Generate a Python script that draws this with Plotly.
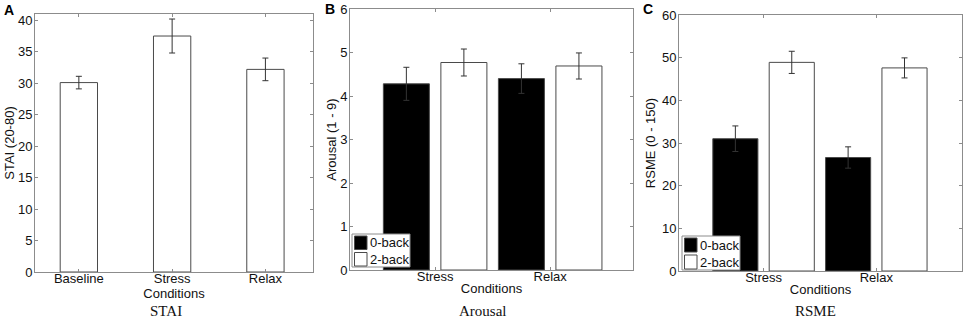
import plotly.graph_objects as go

# ---- data ----
stai_categories = ["Baseline", "Stress", "Relax"]
stai_values = [30.1, 37.5, 32.2]
stai_errors = [1.0, 2.7, 1.8]

conditions = ["Stress", "Relax"]
series_names = ["0-back", "2-back"]
arousal_0back = [4.28, 4.40]
arousal_0back_err = [0.38, 0.34]
arousal_2back = [4.77, 4.69]
arousal_2back_err = [0.31, 0.30]

rsme_0back = [31.0, 26.6]
rsme_0back_err = [3.0, 2.5]
rsme_2back = [48.9, 47.6]
rsme_2back_err = [2.6, 2.35]

W, H = 964, 325
AXC = "#8c8c8c"
EDGE = "#4a4a4a"
ERRC = "#333333"
FONT = "Liberation Sans, Arial, sans-serif"
TXT = "#111111"


def px_x(a, b):
    return [a / W, b / W]


def px_y(top, bottom):
    return [(H - bottom) / H, (H - top) / H]


def py(y):
    return (H - y) / H


fig = go.Figure()

err_style = dict(type="data", color=ERRC, thickness=1, width=3, visible=True)

# Panel A
xa = list(range(1, len(stai_categories) + 1))
fig.add_trace(go.Bar(
    x=xa, y=stai_values, width=0.4,
    marker=dict(color="white", line=dict(color=EDGE, width=1)),
    error_y=dict(array=stai_errors, **err_style),
    xaxis="x", yaxis="y", showlegend=False,
))

xb = list(range(1, len(conditions) + 1))
# Panel B
fig.add_trace(go.Bar(
    x=xb, y=arousal_0back, width=0.4, offset=-0.45, name=series_names[0],
    marker=dict(color="black", line=dict(color=EDGE, width=1)),
    error_y=dict(array=arousal_0back_err, **err_style),
    xaxis="x2", yaxis="y2", showlegend=False,
))
fig.add_trace(go.Bar(
    x=xb, y=arousal_2back, width=0.4, offset=0.05, name=series_names[1],
    marker=dict(color="white", line=dict(color=EDGE, width=1)),
    error_y=dict(array=arousal_2back_err, **err_style),
    xaxis="x2", yaxis="y2", showlegend=False,
))
# Panel C
fig.add_trace(go.Bar(
    x=xb, y=rsme_0back, width=0.4, offset=-0.45, name=series_names[0],
    marker=dict(color="black", line=dict(color=EDGE, width=1)),
    error_y=dict(array=rsme_0back_err, **err_style),
    xaxis="x3", yaxis="y3", showlegend=False,
))
fig.add_trace(go.Bar(
    x=xb, y=rsme_2back, width=0.4, offset=0.05, name=series_names[1],
    marker=dict(color="white", line=dict(color=EDGE, width=1)),
    error_y=dict(array=rsme_2back_err, **err_style),
    xaxis="x3", yaxis="y3", showlegend=False,
))

axis_common = dict(
    showline=True, linecolor=AXC, linewidth=1, mirror="allticks",
    ticks="inside", ticklen=3, tickcolor=AXC, tickwidth=1,
    showgrid=False, zeroline=False, automargin=False,
    tickfont=dict(family=FONT, size=13, color=TXT),
)
xcommon = dict(axis_common, ticklabelstandoff=-6)
ycommon = dict(axis_common, ticklabelstandoff=-1)
xtitle = dict(text="Conditions", standoff=1, font=dict(size=13))

fig.update_layout(
    width=W, height=H,
    margin=dict(l=0, r=0, t=0, b=0),
    paper_bgcolor="white", plot_bgcolor="white",
    barmode="overlay",
    font=dict(family=FONT, size=13, color=TXT),
    xaxis=dict(domain=px_x(35, 313), range=[0.53, 3.51], anchor="y",
               tickmode="array", tickvals=xa, ticktext=stai_categories,
               title=xtitle, **xcommon),
    yaxis=dict(domain=px_y(14, 272), range=[0, 41], anchor="x",
               tickmode="array", tickvals=list(range(0, 41, 5)),
               title=dict(text="STAI (20-80)", standoff=0, font=dict(size=13)), **ycommon),
    xaxis2=dict(domain=px_x(350, 633), range=[0.26, 2.72], anchor="y2",
                tickmode="array", tickvals=xb, ticktext=conditions,
                title=xtitle, **xcommon),
    yaxis2=dict(domain=px_y(9, 270), range=[0, 6], anchor="x2",
                tickmode="array", tickvals=list(range(0, 7)),
                title=dict(text="Arousal (1 - 9)", standoff=0, font=dict(size=13)), **ycommon),
    xaxis3=dict(domain=px_x(679, 962), range=[0.25, 2.76], anchor="y3",
                tickmode="array", tickvals=xb, ticktext=conditions,
                title=xtitle, **xcommon),
    yaxis3=dict(domain=px_y(15, 271), range=[0, 60], anchor="x3",
                tickmode="array", tickvals=list(range(0, 61, 10)),
                title=dict(text="RSME (0 - 150)", standoff=3, font=dict(size=13)), **ycommon),
)

# legends (box + swatches + labels), positioned in figure pixels
shapes = []
legend_specs = [
    # box left, top, right, bottom
    (352, 234, 410, 267),
    (682, 236, 740, 270),
]
swatch_colors = ["black", "white"]
for (l, t, r, b) in legend_specs:
    shapes.append(dict(type="rect", xref="paper", yref="paper",
                       x0=l / W, x1=r / W, y0=py(b), y1=py(t),
                       fillcolor="white", line=dict(color=AXC, width=1), layer="above"))
    row_h = (b - t) / 2
    for i, (name, col) in enumerate(zip(series_names, swatch_colors)):
        y0 = t + 2 + i * row_h
        y1 = y0 + row_h - 3
        shapes.append(dict(type="rect", xref="paper", yref="paper",
                           x0=(l + 2.5) / W, x1=(l + 15) / W, y0=py(y1), y1=py(y0),
                           fillcolor=col, line=dict(color=EDGE, width=1), layer="above"))
        fig.add_annotation(text=name, x=(l + 16) / W, y=py((y0 + y1) / 2),
                           xref="paper", yref="paper", xanchor="left", yanchor="middle",
                           showarrow=False, font=dict(family=FONT, size=13, color=TXT))
fig.update_layout(shapes=shapes)

# panel letters and bottom captions
for txt, x, y in [("A", 2, 0), ("B", 323, -1), ("C", 641, -1)]:
    fig.add_annotation(text=f"<b>{txt}</b>", x=x / W, y=py(y), xref="paper", yref="paper",
                       xanchor="left", yanchor="top", showarrow=False,
                       font=dict(family=FONT, size=14, color="black"))
for txt, x in [("STAI", 166), ("Arousal", 483), ("RSME", 815)]:
    fig.add_annotation(text=txt, x=x / W, y=py(311), xref="paper", yref="paper",
                       xanchor="center", yanchor="middle", showarrow=False,
                       font=dict(family="Liberation Serif, Times New Roman, serif", size=15, color=TXT))

fig.write_html("out.html", config={"displayModeBar": False},
               post_script="document.body.style.margin='0';document.body.style.overflow='hidden';")
